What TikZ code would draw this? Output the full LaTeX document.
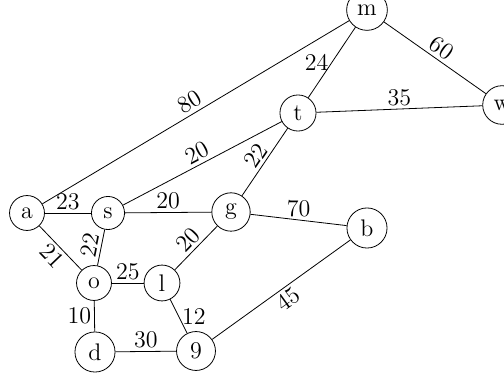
\documentclass[tikz,border=0pt]{standalone}
\usepackage{tikz}
\tikzset{
  nodo/.style={draw, circle},
  peso/.style={inner sep=1.5pt},
}

\begin{document}
\begin{tikzpicture}[x=0.5pt, y=-0.5pt, font=\large]
  \useasboundingbox (0,0) rectangle (504,379);
  \node[nodo] (a) at (27,213) {a};
  \node[nodo] (s) at (108,213) {s};
  \node[nodo] (g) at (231,212) {g};
  \node[nodo] (o) at (94,283) {o};
  \node[nodo] (l) at (162,283) {l};
  \node[nodo] (d) at (95,352) {d};
  \node[nodo] (n9) at (196,351) {9};
  \node[nodo] (b) at (367,228) {b};
  \node[nodo] (m) at (367,10) {m};
  \node[nodo] (t) at (298,113) {t};
  \node[nodo] (w) at (502,105) {w};
  \draw (a) -- node[peso, above, sloped] {80} (m);
  \draw (a) -- node[peso, above] {23} (s);
  \draw (a) -- node[peso, below, sloped] {21} (o);
  \draw (s) -- node[peso, above, sloped] {20} (t);
  \draw (s) -- node[peso, above] {20} (g);
  \draw (o) -- node[peso, above, sloped] {22} (s);
  \draw (t) -- node[peso, left] {24} (m);
  \draw (t) -- node[peso, above] {35} (w);
  \draw (g) -- node[peso, above, sloped] {22} (t);
  \draw (m) -- node[peso, above, sloped] {60} (w);
  \draw (g) -- node[peso, above] {70} (b);
  \draw (l) -- node[peso, above, sloped] {20} (g);
  \draw (o) -- node[peso, above] {25} (l);
  \draw (o) -- node[peso, left] {10} (d);
  \draw (l) -- node[peso, right] {12} (n9);
  \draw (d) -- node[peso, above] {30} (n9);
  \draw (n9) -- node[peso, below, sloped] {45} (b);
\end{tikzpicture}
\end{document}
